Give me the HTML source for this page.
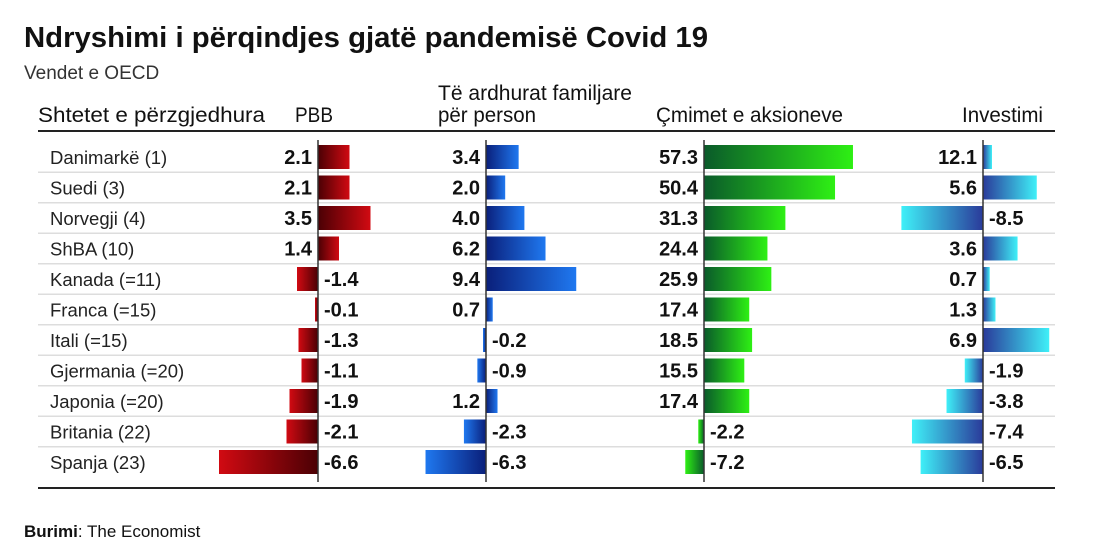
<!DOCTYPE html>
<html><head><meta charset="utf-8"><style>
body{margin:0;background:#fff;}
svg{display:block;font-family:"Liberation Sans",sans-serif;}
</style></head><body>
<svg width="1110" height="550" viewBox="0 0 1110 550">
<defs>
<linearGradient id="rp" x1="0" x2="1"><stop offset="0" stop-color="#4a0004"/><stop offset="1" stop-color="#d10a12"/></linearGradient>
<linearGradient id="rn" x1="1" x2="0"><stop offset="0" stop-color="#4a0004"/><stop offset="1" stop-color="#d10a12"/></linearGradient>
<linearGradient id="bp" x1="0" x2="1"><stop offset="0" stop-color="#0a1f7a"/><stop offset="1" stop-color="#1f78f0"/></linearGradient>
<linearGradient id="bn" x1="1" x2="0"><stop offset="0" stop-color="#0a1f7a"/><stop offset="1" stop-color="#1f78f0"/></linearGradient>
<linearGradient id="gp" x1="0" x2="1"><stop offset="0" stop-color="#0a5a2a"/><stop offset="1" stop-color="#2ef014"/></linearGradient>
<linearGradient id="gn" x1="1" x2="0"><stop offset="0" stop-color="#0a5a2a"/><stop offset="1" stop-color="#2ef014"/></linearGradient>
<linearGradient id="cp" x1="0" x2="1"><stop offset="0" stop-color="#2a3a9a"/><stop offset="1" stop-color="#3ff0f8"/></linearGradient>
<linearGradient id="cn" x1="1" x2="0"><stop offset="0" stop-color="#2a3a9a"/><stop offset="1" stop-color="#3ff0f8"/></linearGradient>
</defs>
<text x="24" y="47" font-size="29" font-weight="bold" fill="#111" textLength="684" lengthAdjust="spacingAndGlyphs">Ndryshimi i përqindjes gjatë pandemisë Covid 19</text>
<text x="24" y="79" font-size="19" fill="#333">Vendet e OECD</text>
<g font-size="21" fill="#111">
<text x="38" y="122" textLength="227" lengthAdjust="spacingAndGlyphs">Shtetet e përzgjedhura</text>
<text x="295" y="122" textLength="38" lengthAdjust="spacingAndGlyphs">PBB</text>
<text x="438" y="100" textLength="194" lengthAdjust="spacingAndGlyphs">Të ardhurat familjare</text>
<text x="438" y="122" textLength="98" lengthAdjust="spacingAndGlyphs">për person</text>
<text x="656" y="122" textLength="187" lengthAdjust="spacingAndGlyphs">Çmimet e aksioneve</text>
<text x="962" y="122" textLength="81" lengthAdjust="spacingAndGlyphs">Investimi</text>
</g>
<line x1="38" y1="131" x2="1055" y2="131" stroke="#222" stroke-width="2"/>
<line x1="38" y1="488" x2="1055" y2="488" stroke="#222" stroke-width="2"/>
<g stroke="#ddd" stroke-width="1.5" id="seps"></g>
<g id="bars"></g>
<g stroke="#333" stroke-width="1.5">
<line x1="318" y1="140" x2="318" y2="482"/>
<line x1="486" y1="140" x2="486" y2="482"/>
<line x1="704" y1="140" x2="704" y2="482"/>
<line x1="983" y1="140" x2="983" y2="482"/>
</g>
<text x="24" y="537" font-size="17" fill="#111"><tspan font-weight="bold">Burimi</tspan>: The Economist</text>
<script>
var rows=[["Danimarkë (1)",2.1,3.4,57.3,12.1,9],["Suedi (3)",2.1,2.0,50.4,5.6],["Norvegji (4)",3.5,4.0,31.3,-8.5],["ShBA (10)",1.4,6.2,24.4,3.6],["Kanada (=11)",-1.4,9.4,25.9,0.7],["Franca (=15)",-0.1,0.7,17.4,1.3],["Itali (=15)",-1.3,-0.2,18.5,6.9],["Gjermania (=20)",-1.1,-0.9,15.5,-1.9],["Japonia (=20)",-1.9,1.2,17.4,-3.8],["Britania (22)",-2.1,-2.3,-2.2,-7.4],["Spanja (23)",-6.6,-6.3,-7.2,-6.5]];
var cols=[[318,15,"r"],[486,9.6,"b"],[704,2.6,"g"],[983,9.6,"c"]];
var ns="http://www.w3.org/2000/svg",B=document.getElementById("bars"),S=document.getElementById("seps");
function el(t,a,p,txt){var e=document.createElementNS(ns,t);for(var k in a)e.setAttribute(k,a[k]);if(txt!==undefined)e.textContent=txt;p.appendChild(e);return e;}
rows.forEach(function(r,i){var cy=157+30.5*i;
 if(i>0)el("line",{x1:38,x2:1055,y1:cy-15.25,y2:cy-15.25},S);
 el("text",{x:50,y:cy+7,"font-size":18.5,fill:"#222"},B,r[0]);
 for(var c=0;c<4;c++){var v=r[c+1],ax=cols[c][0],w=Math.abs(v)*cols[c][1];
  if(c==3&&i==0)w=9;
  if(w<3)w=3;
  var pos=v>=0;
  el("rect",{x:pos?ax:ax-w,y:cy-12,width:w,height:24,fill:"url(#"+cols[c][2]+(pos?"p":"n")+")"},B);
  var s=v.toFixed(1);
  el("text",{x:pos?ax-6:ax+6,y:cy+7,"font-size":20,"font-weight":"bold",fill:"#111","text-anchor":pos?"end":"start"},B,s);
 }
});
</script>
</svg>
</body></html>
